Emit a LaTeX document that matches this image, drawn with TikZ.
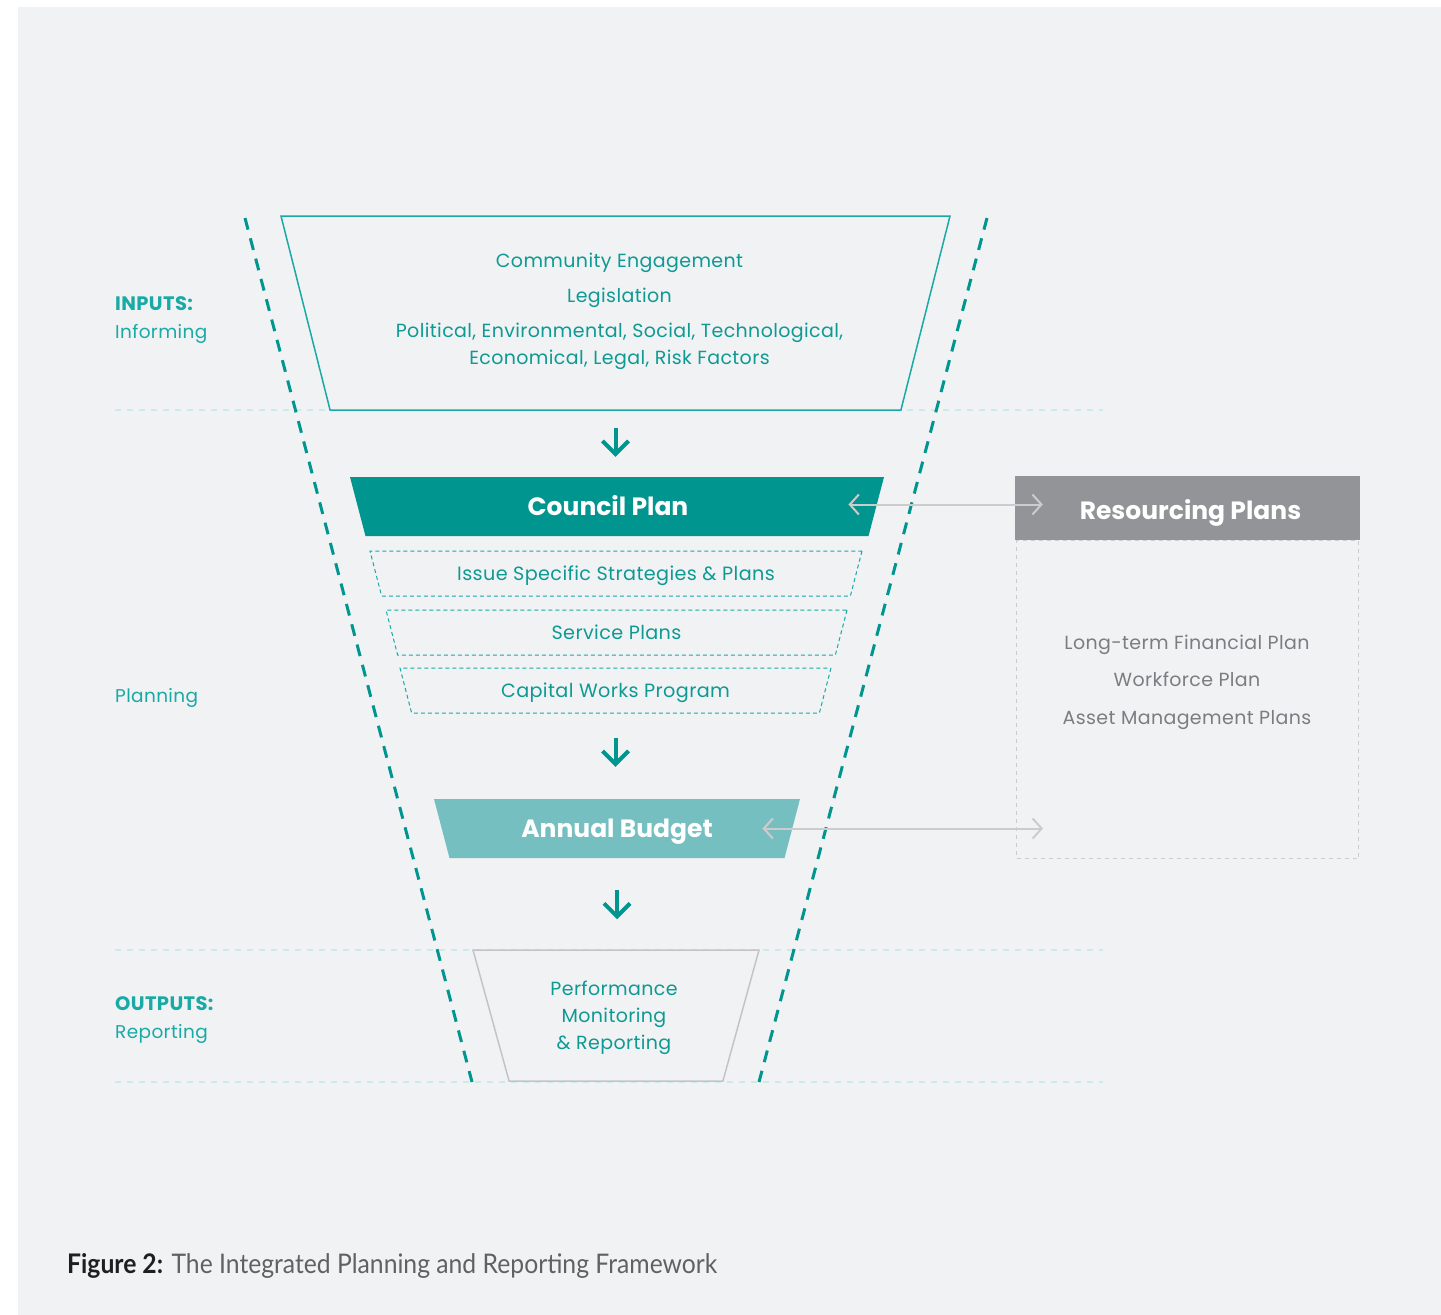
\documentclass[tikz,border=0pt]{standalone}
\usepackage{fontspec}
\setmainfont{Poppins}[LetterSpace=2]
\newfontfamily\headfont{Poppins}
\newfontfamily\capfont[FakeStretch=0.915]{Lato}
\usepackage{tikz}
\usetikzlibrary{shapes.geometric,arrows.meta,positioning}
\definecolor{pagegray}{RGB}{240,242,244}
\definecolor{tealdark}{RGB}{0,150,143}
\definecolor{tealtext}{RGB}{14,154,147}
\definecolor{teallight}{RGB}{26,170,165}
\definecolor{tealpale}{RGB}{118,191,193}
\definecolor{guidecyan}{RGB}{205,233,232}
\definecolor{resgray}{RGB}{147,148,151}
\definecolor{textgray}{RGB}{125,125,128}
\definecolor{linkgray}{RGB}{204,204,204}
\definecolor{boxgray}{RGB}{196,196,198}

\begin{document}
\begin{tikzpicture}[
    x=1pt, y=-1pt,
    funnel/.style={draw=tealdark, line width=3pt, dash pattern=on 12pt off 9pt},
    guide/.style={draw=guidecyan, line width=1.2pt, dash pattern=on 6pt off 6pt},
    trap/.style={trapezium, shape border rotate=180, trapezium angle=75.5, trapezium stretches body=true, inner sep=0pt, align=center},
    inbox/.style={trap, draw=teallight, line width=1.5pt, fill=pagegray, trapezium angle=75.8, text height=194pt, text depth=0pt},
    planbox/.style={trap, draw=teallight, line width=1pt, dash pattern=on 4pt off 3pt, fill=pagegray, text=tealtext, text height=29.5pt, text depth=15.5pt, font=\fontsize{19.2}{24}\selectfont},
    mainbox/.style={trap, text=white, trapezium angle=75.3, text height=38.5pt, text depth=20.5pt, font=\headfont\fontsize{25}{30}\selectfont\bfseries},
    outbox/.style={trap, draw=boxgray, line width=1.5pt, fill=pagegray, trapezium angle=74.6, text height=131pt, text depth=0pt},
    stagetext/.style={text=tealtext, align=center, inner sep=0pt, font=\fontsize{19}{27}\selectfont},
    sidelabel/.style={anchor=west, text=teallight, align=left, inner sep=0pt, font=\fontsize{18.5}{28}\selectfont},
    downarrow/.style={draw=tealdark, line width=4pt, -{Straight Barb[length=13pt,width=26pt]}},
    linkarrow/.style={draw=linkgray, line width=2pt, {Straight Barb[length=9pt,width=20pt]}-{Straight Barb[length=9pt,width=20pt]}}
]

% page
\useasboundingbox (0,0) rectangle (1441,1315);
\fill[white] (0,0) rectangle (1441,1315);
\fill[pagegray] (18,7) rectangle (1441,1315);

% guide lines and funnel
\draw[guide] (115,410) -- (1103,410);
\draw[guide] (115,950) -- (1103,950);
\draw[guide] (115,1082) -- (1103,1082);
\draw[funnel] (245,218) -- (472,1082);
\draw[funnel] (987,218) -- (759,1082);

% funnel stages
\node[inbox, minimum width=669pt] (inputs) at (615.5,313) {};
\node[stagetext] (inputstext) at (619.5,311)
    {Community Engagement\\[8pt] Legislation\\[8pt] Political, Environmental, Social, Technological,\\ Economical, Legal, Risk Factors};
\node[mainbox, fill=tealdark, minimum width=534pt] (council) at (617,506.5) {Council Plan\hspace{18pt}};
\node[planbox, minimum width=492pt] (issue) at (616,573.5) {Issue Specific Strategies \& Plans};
\node[planbox, minimum width=461pt] (service) at (616.5,632.5) {Service Plans};
\node[planbox, minimum width=431pt] (capital) at (615.5,690.5) {Capital Works Program};
\node[mainbox, fill=tealpale, minimum width=366pt] (budget) at (617,828.5) {Annual Budget};
\node[outbox, minimum width=286pt] (perf) at (616,1015.5) {};
\node[stagetext] (perftext) at (614,1017.5) {Performance\\ Monitoring\\ \& Reporting};

% resourcing plans
\node[fill=resgray, text=white, minimum width=345pt, minimum height=64pt, text height=23pt, text depth=0pt, font=\headfont\fontsize{25}{30}\selectfont\bfseries] (res) at (1187.5,508) {\hspace{6pt}Resourcing Plans};
\node[draw=linkgray, line width=1pt, dash pattern=on 4pt off 4pt, minimum width=342pt, minimum height=318pt, below=0pt of res] (resbody) {};
\node[text=textgray, align=center, font=\fontsize{19}{37.5}\selectfont] (reslist) at (1187,682)
    {Long-term Financial Plan\\ Workforce Plan\\ Asset Management Plans};

% side labels
\node[sidelabel] (inlabel) at (115,320) {{\fontsize{19.5}{28}\selectfont\bfseries INPUTS:}\\ Informing};
\node[sidelabel] (planlabel) at (115,698) {Planning};
\node[sidelabel] (outlabel) at (115,1020) {{\fontsize{19.5}{28}\selectfont\bfseries OUTPUTS:}\\ Reporting};

% arrows
\draw[downarrow, shorten <=17pt, shorten >=20pt] (inputs.south) -- (inputs.south |- council.north);
\draw[downarrow, shorten <=24pt, shorten >=32pt] (capital.south) -- (capital.south |- budget.north);
\draw[downarrow, shorten <=32pt, shorten >=30pt] (budget.south) -- (budget.south |- perf.north);
\draw[linkarrow, shorten <=-28pt, shorten >=-28pt] ([yshift=2pt]council.east) -- ([yshift=2pt]council.east -| res.west);
\draw[linkarrow, shorten <=-30pt, shorten >=-27pt] (budget.east) -- (budget.east -| resbody.west);

% caption
\node[anchor=base west, inner sep=0pt, font=\capfont\fontsize{27}{32}\selectfont, text=black!62] (caption) at (67,1273)
    {\textcolor{black!88}{\bfseries Figure 2:} The Integrated Planning and Reporting Framework};

\end{tikzpicture}
\end{document}
